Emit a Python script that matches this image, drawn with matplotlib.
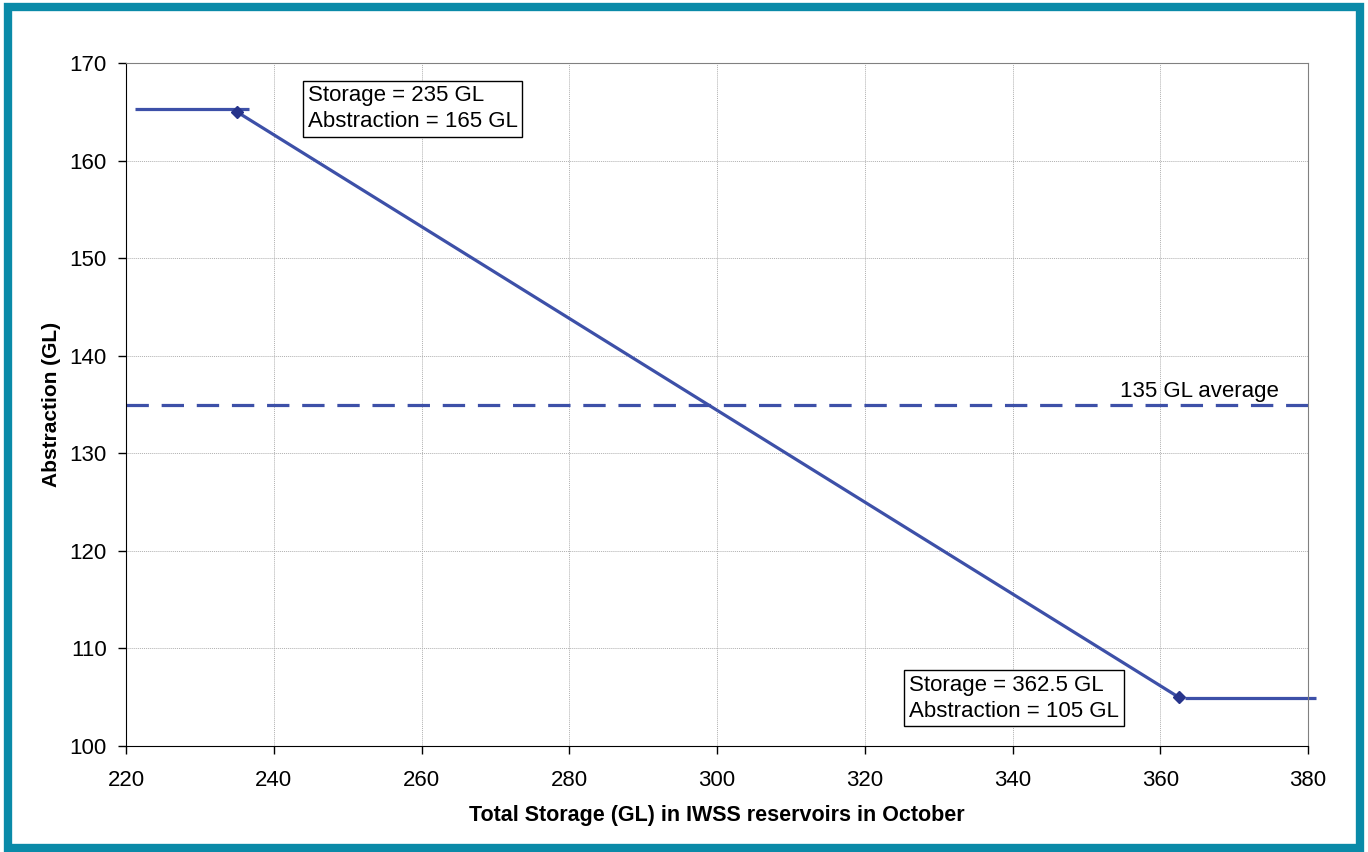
import matplotlib.pyplot as plt
from matplotlib.patches import Rectangle

# Data
flat_left_x = [221.2, 236.7]
flat_left_y = [165.3, 165.3]
slope_x = [235, 362.5]
slope_y = [165, 105]
flat_right_x = [363.3, 381.1]
flat_right_y = [104.9, 104.9]
avg_x = [220, 380.5]
avg_y = [135, 135]

plt.rcParams.update({
    "font.family": ["Liberation Sans", "DejaVu Sans"],
    "font.size": 16,
})

LINE = "#3D50A8"
MARK = "#27348B"

fig = plt.figure(figsize=(13.68, 8.52), dpi=100)
fig.patch.set_facecolor("white")
ax = fig.add_axes([126 / 1368, 1 - 746 / 852, (1308 - 126) / 1368, (746 - 63) / 852])

ax.plot(flat_left_x, flat_left_y, color=LINE, lw=2.3, solid_capstyle="butt")
ax.plot(slope_x, slope_y, color=LINE, lw=2.3, marker="D", markersize=6,
        markerfacecolor=MARK, markeredgecolor=MARK)
ax.plot(flat_right_x, flat_right_y, color=LINE, lw=2.3, solid_capstyle="butt", clip_on=False)
ax.plot(avg_x, avg_y, color=LINE, lw=2.3, dashes=(7, 4), clip_on=False)

ax.set_xlim(220, 380)
ax.set_ylim(100, 170)
ax.set_xticks(range(220, 381, 20))
ax.set_yticks(range(100, 171, 10))
ax.grid(True, color="#b0b0b0", linestyle=(0, (1, 1)), linewidth=0.7)
ax.set_axisbelow(True)
for s in ("top", "right"):
    ax.spines[s].set_color("#808080")
for s in ("left", "bottom"):
    ax.spines[s].set_color("#000000")
ax.tick_params(direction="out", length=6, width=1, labelsize=16)
ax.tick_params(axis="y", pad=8)
ax.tick_params(axis="x", pad=11)

ax.set_xlabel("Total Storage (GL) in IWSS reservoirs in October", fontweight="bold",
              fontsize=15.5, labelpad=10)
ax.set_ylabel("Abstraction (GL)", fontweight="bold", fontsize=15, labelpad=6)

box = dict(boxstyle="square,pad=0.22", facecolor="white", edgecolor="black", linewidth=1)
ax.text(244.6, 165.3, "Storage = 235 GL\nAbstraction = 165 GL", ha="left", va="center",
        fontsize=16, bbox=box, linespacing=1.3)
ax.text(326.0, 104.9, "Storage = 362.5 GL\nAbstraction = 105 GL", ha="left", va="center",
        fontsize=16, bbox=box, linespacing=1.3)
ax.text(376, 136.3, "135 GL average", ha="right", va="center", fontsize=16)

fig.patches.append(Rectangle((8 / 1368, 4 / 852), 1352 / 1368, 841 / 852, fill=False,
                             edgecolor="#0A8AA8", linewidth=6, transform=fig.transFigure))

fig.savefig("out.png", dpi=100)
